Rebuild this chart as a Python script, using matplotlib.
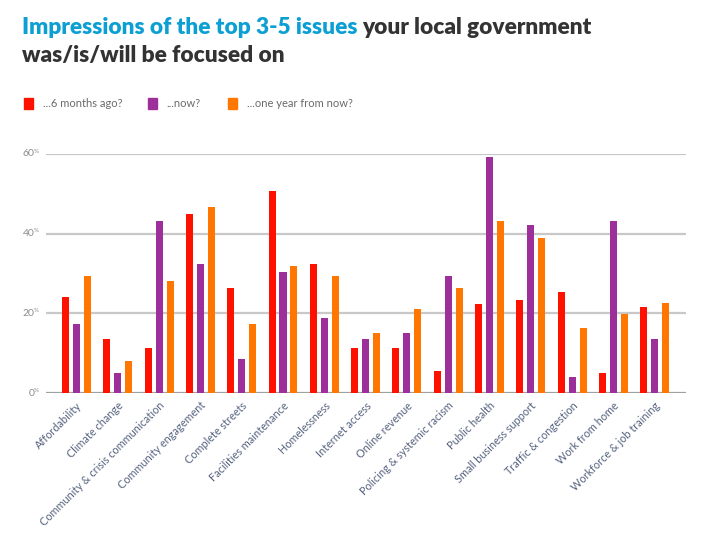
import numpy as np
import matplotlib.pyplot as plt

plt.rcParams['font.family'] = ['Lato', 'DejaVu Sans']

categories = ["Affordability", "Climate change", "Community & crisis communication",
              "Community engagement", "Complete streets", "Facilities maintenance",
              "Homelessness", "Internet access", "Online revenue",
              "Policing & systemic racism", "Public health", "Small business support",
              "Traffic & congestion", "Work from home", "Workforce & job training"]
six_months_ago = [24.1, 13.6, 11.4, 44.9, 26.4, 50.7, 32.4, 11.4, 11.4, 5.6, 22.4, 23.4, 25.4, 5.1, 21.6]
now = [17.4, 5.1, 43.2, 32.4, 8.6, 30.4, 18.9, 13.6, 15.1, 29.4, 59.2, 42.2, 4.1, 43.2, 13.6]
year_from_now = [29.4, 8.1, 28.1, 46.7, 17.4, 31.9, 29.4, 15.1, 21.1, 26.4, 43.2, 38.9, 16.4, 19.9, 22.6]
series_names = ["...6 months ago?", "...now?", "...one year from now?"]
colors = ["#ff1100", "#9c2f99", "#ff7700"]
yticks = [0, 20, 40, 60]

fig = plt.figure(figsize=(7.01, 5.38), dpi=100)
ax = fig.add_axes([0.0656, 0.2695, 0.913, 0.4443])

x = np.arange(len(categories))
w = 0.17
step = 0.266
for i, vals in enumerate([six_months_ago, now, year_from_now]):
    ax.bar(x + (i - 1) * step, vals, width=w, color=colors[i], zorder=3)

ax.set_xlim(-0.74, len(categories) - 1 + 0.76)
ax.set_ylim(0, 60)
for v in yticks:
    ax.axhline(v, color="#a0a0a0" if v == 0 else "#c8c8c8", lw=1.6, zorder=1)
    ax.annotate(str(v), xy=(0, v), xycoords=("axes fraction", "data"),
                xytext=(-8.5, 0), textcoords="offset points",
                ha="right", va="center", fontsize=7.5, color="#8c8c8c")
    ax.annotate("%", xy=(0, v), xycoords=("axes fraction", "data"),
                xytext=(-8.5, 0.3), textcoords="offset points",
                ha="left", va="bottom", fontsize=4.5, color="#8c8c8c")

ax.set_yticks([])
ax.set_xticks(x)
ax.set_xticklabels(categories, rotation=45, ha="right", rotation_mode="anchor",
                   fontsize=7.8, color="#55627f")
ax.tick_params(axis="x", length=0, pad=5)
for s in ax.spines.values():
    s.set_visible(False)

# title
tx = 0.031
t1 = fig.text(tx, 0.937, "Impressions of the top 3-5 issues", fontsize=16.3,
              fontweight="heavy", color="#0b9fd4", va="baseline")
fig.canvas.draw()
bb = t1.get_window_extent()
fig.text(bb.x1 / fig.bbox.width + 0.007, 0.937, "your local government", fontsize=16.3,
         fontweight="heavy", color="#333333", va="baseline")
fig.text(tx, 0.885, "was/is/will be focused on", fontsize=16.3,
         fontweight="heavy", color="#333333", va="baseline")

# legend
lx = [0.034, 0.211, 0.325]
for i, name in enumerate(series_names):
    fig.patches.append(plt.Rectangle((lx[i], 0.797), 0.0128, 0.0205, transform=fig.transFigure,
                                     color=colors[i], figure=fig))
    fig.text(lx[i] + 0.027, 0.807, name, fontsize=8, color="#6a6a6a", va="center")

fig.savefig("out.png", dpi=100)
